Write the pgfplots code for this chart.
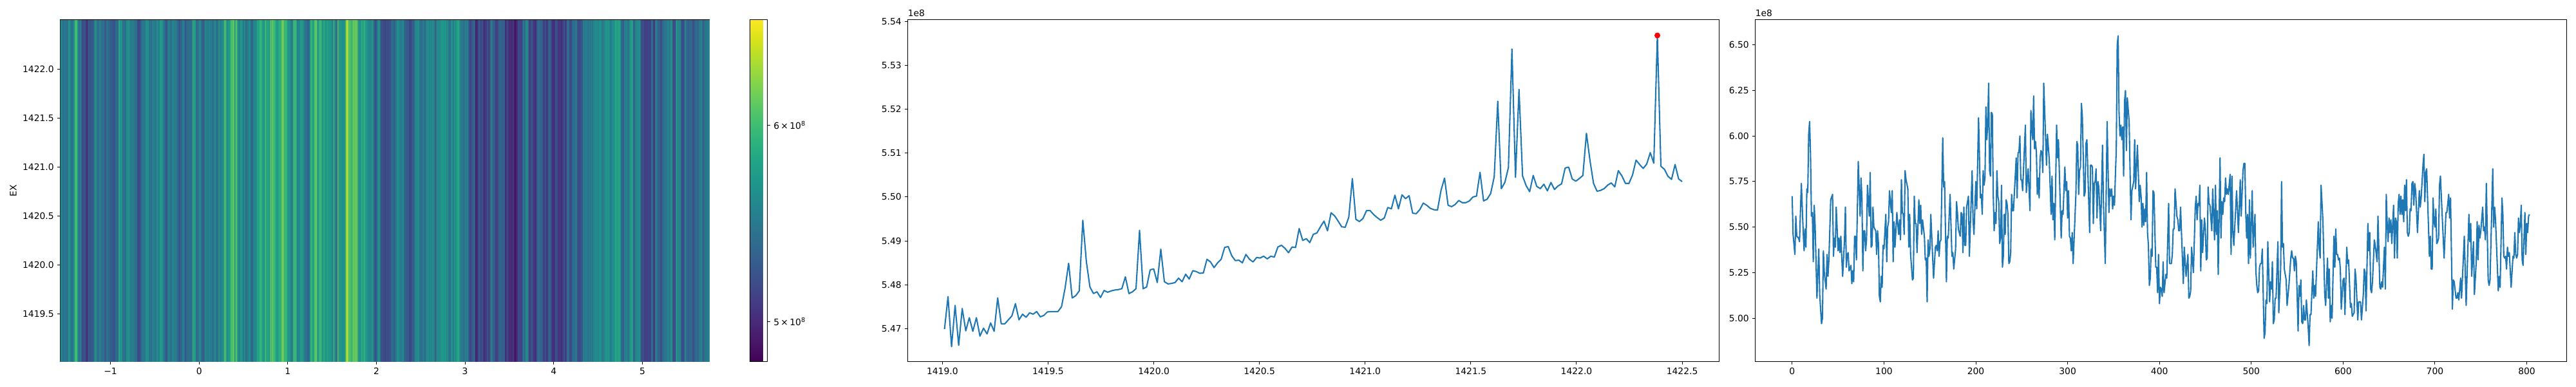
\documentclass[border=0pt]{standalone}
\usepackage{pgfplots}
\usepackage{pgfplotstable}
\usepackage{fontspec}
\setmainfont{DejaVu Sans}
\pgfplotsset{compat=1.18}
\definecolor{mplblue}{HTML}{1F77B4}
\pgfdeclareplotmark{stripe}{%
  \pgfpathrectangle{\pgfpoint{-0.45pt}{-191.16pt}}{\pgfpoint{4pt}{382.32pt}}%
  \pgfusepathqfill}
\pgfdeclareplotmark{stripeb}{%
  \pgfpathrectangle{\pgfpoint{0pt}{-191.16pt}}{\pgfpoint{3pt}{382.32pt}}%
  \pgfusepathqfill}
\pgfplotstableread[row sep=\\]{
i v \\
0 5.67 \\ 1 5.46 \\ 3 5.35 \\ 4 5.56 \\ 5 5.45 \\ 7 5.44 \\ 8 5.42 \\ 10 5.74 \\ 12 5.48 \\ 13 5.37 \\
14 5.49 \\ 15 5.39 \\ 16 5.71 \\ 17 5.69 \\ 18 6.01 \\ 19 6.08 \\ 20 5.90 \\ 21 5.56 \\ 22 5.58 \\ 23 5.31 \\
24 5.62 \\ 25 5.51 \\ 26 5.31 \\ 27 5.11 \\ 29 5.38 \\ 30 5.13 \\ 32 4.97 \\ 33 5.00 \\ 34 5.37 \\ 35 5.25 \\
37 5.16 \\ 38 5.35 \\ 39 5.23 \\ 40 5.32 \\ 42 5.65 \\ 44 5.68 \\ 45 5.34 \\ 46 5.44 \\ 47 5.39 \\ 48 5.61 \\
50 5.37 \\ 51 5.44 \\ 52 5.36 \\ 53 5.45 \\ 55 5.23 \\ 57 5.43 \\ 58 5.61 \\ 59 5.28 \\ 60 5.35 \\ 61 5.36 \\
62 5.26 \\ 64 5.29 \\ 65 5.19 \\ 66 5.26 \\ 67 5.20 \\ 68 5.45 \\ 69 5.45 \\ 70 5.32 \\ 72 5.86 \\ 74 5.56 \\
75 5.77 \\ 76 5.66 \\ 77 5.26 \\ 78 5.48 \\ 79 5.48 \\ 80 5.37 \\ 81 5.43 \\ 82 5.73 \\ 84 5.56 \\ 85 5.80 \\
86 5.39 \\ 87 5.40 \\ 88 5.61 \\ 89 5.50 \\ 91 5.48 \\ 92 5.35 \\ 93 5.48 \\ 94 5.41 \\ 95 5.12 \\ 96 5.09 \\
97 5.23 \\ 98 5.17 \\ 99 5.40 \\ 100 5.38 \\ 102 5.57 \\ 103 5.31 \\ 104 5.50 \\ 105 5.53 \\ 106 5.70 \\ 108 5.58 \\
109 5.70 \\ 110 5.31 \\ 111 5.53 \\ 112 5.39 \\ 114 5.58 \\ 116 5.46 \\ 117 5.54 \\ 118 5.43 \\ 119 5.76 \\ 120 5.58 \\
121 5.57 \\ 122 5.46 \\ 123 5.81 \\ 124 5.76 \\ 126 5.71 \\ 127 5.39 \\ 128 5.57 \\ 129 5.35 \\ 130 5.28 \\ 131 5.21 \\
132 5.22 \\ 133 5.67 \\ 134 5.52 \\ 135 5.52 \\ 136 5.36 \\ 138 5.65 \\ 139 5.52 \\ 140 5.62 \\ 141 5.46 \\ 142 5.54 \\
144 5.45 \\ 145 5.32 \\ 146 5.33 \\ 147 5.09 \\ 148 5.43 \\ 149 5.34 \\ 150 5.38 \\ 151 5.57 \\ 154 5.22 \\ 156 5.39 \\
157 5.40 \\ 158 5.37 \\ 159 5.48 \\ 160 5.34 \\ 161 5.42 \\ 162 5.43 \\ 164 5.99 \\ 165 5.72 \\ 166 5.75 \\ 168 5.20 \\
169 5.45 \\ 170 5.44 \\ 172 5.68 \\ 174 5.34 \\ 175 5.36 \\ 176 5.27 \\ 178 5.38 \\ 179 5.64 \\ 180 5.58 \\ 181 5.49 \\
183 5.45 \\ 184 5.58 \\ 185 5.57 \\ 186 5.36 \\ 187 5.61 \\ 188 5.40 \\ 189 5.40 \\ 190 5.61 \\ 192 5.67 \\ 193 5.34 \\
196 5.81 \\ 197 5.54 \\ 198 5.46 \\ 200 5.75 \\ 201 5.60 \\ 203 6.10 \\ 205 5.66 \\ 206 5.68 \\ 207 5.57 \\ 208 5.81 \\
209 5.73 \\ 210 5.77 \\ 211 6.16 \\ 212 5.98 \\ 213 6.07 \\ 214 6.29 \\ 215 5.81 \\ 216 5.78 \\ 217 6.13 \\ 218 6.12 \\
219 5.68 \\ 220 5.48 \\ 221 5.58 \\ 222 5.52 \\ 223 5.81 \\ 224 5.67 \\ 225 5.64 \\ 226 5.41 \\ 227 5.44 \\ 228 5.73 \\
229 5.28 \\ 230 5.34 \\ 231 5.57 \\ 232 5.46 \\ 233 5.65 \\ 234 5.63 \\ 235 5.57 \\ 236 5.30 \\ 237 5.31 \\ 238 5.36 \\
239 5.68 \\ 240 5.59 \\ 241 5.59 \\ 244 5.88 \\ 245 5.66 \\ 246 5.91 \\ 247 5.91 \\ 248 6.00 \\ 249 5.76 \\ 250 5.76 \\
251 5.70 \\ 254 6.06 \\ 255 5.69 \\ 257 5.82 \\ 259 5.59 \\ 260 6.14 \\ 262 5.98 \\ 263 6.22 \\ 264 5.93 \\ 265 5.97 \\
266 5.91 \\ 267 5.68 \\ 268 5.77 \\ 269 5.66 \\ 270 5.88 \\ 271 5.92 \\ 272 5.91 \\ 273 5.80 \\ 274 6.29 \\ 277 5.84 \\
278 6.01 \\ 280 5.87 \\ 282 5.57 \\ 283 5.78 \\ 284 5.54 \\ 285 5.63 \\ 286 5.43 \\ 288 6.06 \\ 289 5.88 \\ 290 5.98 \\
293 5.44 \\ 294 5.59 \\ 295 5.57 \\ 297 5.83 \\ 298 5.70 \\ 299 5.75 \\ 300 5.55 \\ 301 5.70 \\ 302 5.45 \\ 303 5.44 \\
304 5.37 \\ 305 5.47 \\ 306 5.30 \\ 309 5.68 \\ 310 5.97 \\ 311 5.95 \\ 312 5.68 \\ 313 5.81 \\ 314 5.83 \\ 315 6.18 \\
316 6.11 \\ 318 5.67 \\ 319 5.69 \\ 320 5.96 \\ 321 5.98 \\ 324 5.47 \\ 325 5.84 \\ 326 5.84 \\ 327 5.83 \\ 328 5.52 \\
329 5.74 \\ 330 5.75 \\ 331 5.82 \\ 332 5.55 \\ 333 5.75 \\ 334 5.72 \\ 336 5.48 \\ 338 5.95 \\ 339 5.64 \\ 341 5.30 \\
343 6.08 \\ 345 5.58 \\ 346 5.71 \\ 347 5.67 \\ 348 5.71 \\ 349 5.60 \\ 350 5.67 \\ 351 5.62 \\ 352 5.78 \\ 353 5.93 \\
354 6.50 \\ 355 6.55 \\ 356 6.13 \\ 357 6.00 \\ 358 6.06 \\ 359 5.98 \\ 360 6.05 \\ 361 5.78 \\ 362 6.19 \\ 363 6.25 \\
364 5.92 \\ 365 6.21 \\ 367 6.08 \\ 369 5.54 \\ 370 5.70 \\ 372 5.75 \\ 373 5.98 \\ 374 5.71 \\ 376 5.95 \\ 378 5.64 \\
379 5.73 \\ 380 5.67 \\ 381 5.50 \\ 382 5.63 \\ 383 5.51 \\ 384 5.60 \\ 385 5.53 \\ 386 5.80 \\ 387 5.47 \\ 388 5.40 \\
389 5.18 \\ 390 5.22 \\ 391 5.38 \\ 392 5.34 \\ 393 5.70 \\ 394 5.69 \\ 396 5.28 \\ 397 5.28 \\ 398 5.14 \\ 399 5.35 \\
400 5.08 \\ 401 5.17 \\ 402 5.16 \\ 403 5.12 \\ 404 5.31 \\ 405 5.14 \\ 407 5.24 \\ 408 5.22 \\ 410 5.63 \\ 411 5.30 \\
413 5.30 \\ 414 5.35 \\ 415 5.49 \\ 416 5.49 \\ 417 5.71 \\ 419 5.56 \\ 420 5.54 \\ 421 5.48 \\ 422 5.48 \\ 423 5.61 \\
426 5.19 \\ 427 5.39 \\ 429 5.23 \\ 431 5.35 \\ 432 5.11 \\ 433 5.12 \\ 434 5.15 \\ 435 5.39 \\ 437 5.25 \\ 439 5.61 \\
440 5.67 \\ 441 5.54 \\ 442 5.63 \\ 443 5.62 \\ 444 5.73 \\ 445 5.26 \\ 446 5.54 \\ 447 5.36 \\ 449 5.55 \\ 450 5.49 \\
451 5.32 \\ 452 5.33 \\ 453 5.72 \\ 454 5.63 \\ 455 5.62 \\ 457 5.48 \\ 458 5.71 \\ 459 5.57 \\ 460 5.43 \\ 461 5.73 \\
462 5.46 \\ 463 5.59 \\ 464 5.24 \\ 466 5.88 \\ 467 5.44 \\ 468 5.64 \\ 469 5.57 \\ 470 5.66 \\ 471 5.64 \\ 472 5.77 \\
473 5.68 \\ 474 5.71 \\ 475 5.68 \\ 477 5.79 \\ 478 5.35 \\ 479 5.78 \\ 480 5.47 \\ 481 5.40 \\ 484 5.70 \\ 486 5.47 \\
488 5.76 \\ 489 5.56 \\ 491 5.81 \\ 492 5.85 \\ 493 5.85 \\ 494 5.58 \\ 495 5.44 \\ 496 5.57 \\ 497 5.30 \\ 498 5.65 \\
499 5.33 \\ 501 5.70 \\ 502 5.39 \\ 504 5.57 \\ 505 5.26 \\ 506 5.18 \\ 507 5.14 \\ 508 5.15 \\ 509 5.28 \\ 510 5.30 \\
511 5.30 \\ 512 5.38 \\ 514 4.89 \\ 515 4.92 \\ 516 5.10 \\ 517 5.08 \\ 518 5.42 \\ 520 5.09 \\ 521 5.20 \\ 522 5.16 \\
523 5.31 \\ 524 4.97 \\ 525 4.99 \\ 526 5.11 \\ 527 5.11 \\ 529 5.42 \\ 530 5.03 \\ 532 5.27 \\ 533 5.75 \\ 534 5.39 \\
535 5.41 \\ 536 5.27 \\ 538 5.21 \\ 539 5.07 \\ 541 5.18 \\ 543 5.33 \\ 544 5.37 \\ 545 5.33 \\ 546 5.33 \\ 547 5.26 \\
548 5.34 \\ 549 5.31 \\ 551 4.93 \\ 552 5.18 \\ 553 5.12 \\ 554 5.21 \\ 555 4.98 \\ 556 4.97 \\ 557 5.07 \\ 558 4.99 \\
559 4.99 \\ 560 5.10 \\ 562 4.95 \\ 563 4.85 \\ 564 5.02 \\ 565 5.02 \\ 567 5.26 \\ 568 5.11 \\ 569 5.18 \\ 570 5.12 \\
573 5.53 \\ 574 5.38 \\ 575 5.33 \\ 576 5.73 \\ 578 5.54 \\ 580 5.13 \\ 581 5.07 \\ 583 5.33 \\ 584 5.11 \\ 585 5.27 \\
586 4.98 \\ 587 5.07 \\ 588 5.00 \\ 590 5.45 \\ 591 5.28 \\ 592 5.49 \\ 593 5.35 \\ 594 5.35 \\ 595 5.32 \\ 596 5.33 \\
597 5.27 \\ 598 5.05 \\ 600 5.21 \\ 601 5.22 \\ 602 5.02 \\ 604 5.39 \\ 605 5.30 \\ 606 5.32 \\ 608 5.06 \\ 609 5.08 \\
610 5.01 \\ 612 5.03 \\ 613 5.27 \\ 614 5.22 \\ 616 4.99 \\ 617 5.09 \\ 619 5.09 \\ 620 4.99 \\ 622 5.13 \\ 623 5.27 \\
624 5.25 \\ 625 5.04 \\ 627 5.52 \\ 628 5.37 \\ 629 5.47 \\ 630 5.16 \\ 631 5.14 \\ 632 5.20 \\ 634 5.43 \\ 635 5.40 \\
637 5.31 \\ 638 5.56 \\ 640 5.17 \\ 641 5.16 \\ 642 5.20 \\ 643 5.17 \\ 645 5.39 \\ 646 5.16 \\ 647 5.68 \\ 648 5.52 \\
649 5.42 \\ 650 5.55 \\ 651 5.47 \\ 652 5.54 \\ 653 5.41 \\ 655 5.62 \\ 656 5.33 \\ 657 5.55 \\ 658 5.53 \\ 659 5.33 \\
660 5.63 \\ 661 5.68 \\ 662 5.57 \\ 663 5.67 \\ 664 5.57 \\ 665 5.65 \\ 666 5.53 \\ 667 5.73 \\ 668 5.59 \\ 669 5.76 \\
670 5.47 \\ 671 5.45 \\ 672 5.47 \\ 673 5.60 \\ 674 5.59 \\ 675 5.74 \\ 676 5.75 \\ 677 5.62 \\ 678 5.74 \\ 679 5.70 \\
680 5.59 \\ 681 5.47 \\ 683 5.70 \\ 684 5.61 \\ 685 5.66 \\ 687 5.84 \\ 688 5.90 \\ 689 5.64 \\ 690 5.80 \\ 691 5.82 \\
694 5.34 \\ 695 5.45 \\ 696 5.27 \\ 697 5.27 \\ 698 5.66 \\ 699 5.53 \\ 700 5.50 \\ 701 5.60 \\ 702 5.41 \\ 703 5.42 \\
704 5.44 \\ 705 5.73 \\ 706 5.78 \\ 710 5.33 \\ 712 5.58 \\ 713 5.58 \\ 715 5.68 \\ 716 5.55 \\ 717 5.66 \\ 719 5.05 \\
720 5.21 \\ 721 5.20 \\ 723 5.11 \\ 724 5.11 \\ 725 5.14 \\ 726 5.10 \\ 728 5.22 \\ 729 5.11 \\ 732 5.45 \\ 734 5.07 \\
737 5.57 \\ 738 5.42 \\ 739 5.52 \\ 740 5.23 \\ 742 5.42 \\ 743 5.13 \\ 745 5.31 \\ 746 5.53 \\ 747 5.32 \\ 748 5.51 \\
749 5.44 \\ 750 5.48 \\ 752 5.61 \\ 753 5.48 \\ 754 5.50 \\ 755 5.43 \\ 756 5.74 \\ 758 5.21 \\ 759 5.18 \\ 760 5.21 \\
763 5.82 \\ 764 5.50 \\ 765 5.61 \\ 766 5.54 \\ 769 5.15 \\ 770 5.23 \\ 771 5.17 \\ 773 5.66 \\ 774 5.57 \\ 775 5.34 \\
776 5.33 \\ 777 5.34 \\ 778 5.27 \\ 779 5.39 \\ 780 5.34 \\ 781 5.36 \\ 783 5.17 \\ 785 5.34 \\ 786 5.33 \\ 787 5.47 \\
788 5.35 \\ 789 5.33 \\ 790 5.35 \\ 791 5.55 \\ 792 5.47 \\ 793 5.51 \\ 794 5.62 \\ 795 5.32 \\ 796 5.29 \\ 798 5.58 \\
799 5.35 \\ 800 5.52 \\ 801 5.47 \\ 802 5.56 \\ 803 5.57 \\
}\profile
\pgfplotstableread[row sep=\\]{
k v \\
0 5.4699 \\ 1 5.4773 \\ 2 5.4659 \\ 3 5.4753 \\ 4 5.4662 \\ 5 5.4746 \\ 6 5.4695 \\ 7 5.4725 \\ 8 5.4694 \\ 9 5.4725 \\
10 5.4683 \\ 11 5.4701 \\ 12 5.4688 \\ 13 5.4713 \\ 14 5.4694 \\ 15 5.4770 \\ 16 5.4711 \\ 17 5.4711 \\ 18 5.4720 \\ 19 5.4729 \\
20 5.4757 \\ 21 5.4720 \\ 22 5.4733 \\ 23 5.4726 \\ 24 5.4736 \\ 25 5.4733 \\ 26 5.4739 \\ 27 5.4727 \\ 28 5.4730 \\ 29 5.4738 \\
30 5.4739 \\ 31 5.4739 \\ 32 5.4739 \\ 33 5.4750 \\ 34 5.4792 \\ 35 5.4849 \\ 36 5.4770 \\ 37 5.4775 \\ 38 5.4786 \\ 39 5.4947 \\
40 5.4853 \\ 41 5.4795 \\ 42 5.4780 \\ 43 5.4784 \\ 44 5.4771 \\ 45 5.4787 \\ 46 5.4783 \\ 47 5.4786 \\ 48 5.4788 \\ 49 5.4789 \\
50 5.4791 \\ 51 5.4818 \\ 52 5.4780 \\ 53 5.4784 \\ 54 5.4791 \\ 55 5.4924 \\ 56 5.4791 \\ 57 5.4795 \\ 58 5.4834 \\ 59 5.4836 \\
60 5.4805 \\ 61 5.4881 \\ 62 5.4807 \\ 63 5.4802 \\ 64 5.4803 \\ 65 5.4805 \\ 66 5.4815 \\ 67 5.4807 \\ 68 5.4824 \\ 69 5.4813 \\
70 5.4832 \\ 71 5.4830 \\ 72 5.4826 \\ 73 5.4827 \\ 74 5.4858 \\ 75 5.4852 \\ 76 5.4839 \\ 77 5.4850 \\ 78 5.4858 \\ 79 5.4885 \\
80 5.4887 \\ 81 5.4866 \\ 82 5.4855 \\ 83 5.4856 \\ 84 5.4850 \\ 85 5.4869 \\ 86 5.4858 \\ 87 5.4852 \\ 88 5.4862 \\ 89 5.4861 \\
90 5.4865 \\ 91 5.4859 \\ 92 5.4865 \\ 93 5.4863 \\ 94 5.4886 \\ 95 5.4890 \\ 96 5.4883 \\ 97 5.4873 \\ 98 5.4886 \\ 99 5.4885 \\
100 5.4928 \\ 101 5.4901 \\ 102 5.4905 \\ 103 5.4896 \\ 104 5.4915 \\ 105 5.4918 \\ 106 5.4932 \\ 107 5.4945 \\ 108 5.4923 \\ 109 5.4964 \\
110 5.4957 \\ 111 5.4945 \\ 112 5.4932 \\ 113 5.4931 \\ 114 5.4954 \\ 115 5.5042 \\ 116 5.4949 \\ 117 5.4944 \\ 118 5.4951 \\ 119 5.4969 \\
120 5.4969 \\ 121 5.4960 \\ 122 5.4953 \\ 123 5.4947 \\ 124 5.4952 \\ 125 5.4976 \\ 126 5.4973 \\ 127 5.5004 \\ 128 5.4973 \\ 129 5.5005 \\
130 5.4996 \\ 131 5.5003 \\ 132 5.4963 \\ 133 5.4962 \\ 134 5.4971 \\ 135 5.4986 \\ 136 5.4981 \\ 137 5.4974 \\ 138 5.4971 \\ 139 5.4970 \\
140 5.5015 \\ 141 5.5043 \\ 142 5.4981 \\ 143 5.4978 \\ 144 5.4983 \\ 145 5.4992 \\ 146 5.4987 \\ 147 5.4987 \\ 148 5.4991 \\ 149 5.5000 \\
150 5.5002 \\ 151 5.5056 \\ 152 5.4991 \\ 153 5.4995 \\ 154 5.5008 \\ 155 5.5046 \\ 156 5.5218 \\ 157 5.5019 \\ 158 5.5033 \\ 159 5.5067 \\
160 5.5337 \\ 161 5.5045 \\ 162 5.5245 \\ 163 5.5048 \\ 164 5.5026 \\ 165 5.5012 \\ 166 5.5049 \\ 167 5.5024 \\ 168 5.5019 \\ 169 5.5029 \\
170 5.5014 \\ 171 5.5033 \\ 172 5.5017 \\ 173 5.5025 \\ 174 5.5030 \\ 175 5.5066 \\ 176 5.5068 \\ 177 5.5041 \\ 178 5.5036 \\ 179 5.5042 \\
180 5.5049 \\ 181 5.5145 \\ 182 5.5083 \\ 183 5.5031 \\ 184 5.5013 \\ 185 5.5015 \\ 186 5.5019 \\ 187 5.5027 \\ 188 5.5032 \\ 189 5.5023 \\
190 5.5060 \\ 191 5.5048 \\ 192 5.5031 \\ 193 5.5031 \\ 194 5.5050 \\ 195 5.5084 \\ 196 5.5074 \\ 197 5.5065 \\ 198 5.5075 \\ 199 5.5101 \\
200 5.5077 \\ 201 5.5368 \\ 202 5.5070 \\ 203 5.5063 \\ 204 5.5047 \\ 205 5.5040 \\ 206 5.5074 \\ 207 5.5041 \\ 208 5.5035 \\
}\zoomed
\pgfplotsset{
  base/.style={
    scale only axis, anchor=south west, height=382.32pt,
    axis line style={line width=0.72pt, black},
    every tick/.style={black, line width=0.72pt},
    major tick length=3.5pt,
    tick align=outside,
    xtick pos=bottom, ytick pos=left,
    minor tick num=0,
    scaled ticks=false,
    tick label style={font=\fontsize{10}{12}\selectfont},
    clip mode=individual,
  },
  mline/.style={mplblue, line width=1.5pt, line join=round, no markers},
}
\begin{document}
\begin{tikzpicture}[x=1pt,y=1pt]
\path[use as bounding box] (0,0) rectangle (2880,432);
% heat map
\begin{axis}[base, at={(67.32pt,27.72pt)}, width=725.76pt,
  xmin=-1.567, xmax=5.756, ymin=1419.01, ymax=1422.505,
  xtick={-1,0,1,2,3,4,5}, xticklabels={−1,0,1,2,3,4,5},
  ytick={1419.5,1420,1420.5,1421,1421.5,1422},
  yticklabels={1419.5,1420.0,1420.5,1421.0,1421.5,1422.0},
  ylabel={EX}, ylabel style={font=\fontsize{10}{12}\selectfont},
  colormap/viridis,
  point meta min=1.5724, point meta max=1.8898,
  clip marker paths=true,
  colorbar,
  colorbar style={
    at={(1.0625,1)}, anchor=north west,
    scale only axis, width=19.44pt, height=382.32pt,
    axis line style={line width=0.72pt, black},
    every tick/.style={black, line width=0.72pt},
    major tick length=3.5pt,
    tick align=outside,
    ytick={1.6094,1.7918},
    yticklabels={5\,×\,10\textsuperscript{8},6\,×\,10\textsuperscript{8}},
    ytick pos=right, yticklabel pos=right,
    tick label style={font=\fontsize{10}{12}\selectfont},
  },
]
\addplot[scatter, only marks, mark=stripe,
  scatter/use mapped color={draw=none, fill=mapped color},
  point meta={ln(\thisrow{v})}]
  table[x expr={-1.567+\thisrow{i}*0.009108}, y expr=1420.7575] {\profile};
\addplot[scatter, only marks, mark=stripeb,
  scatter/use mapped color={draw=none, fill=mapped color, fill opacity=0.65},
  point meta={ln(\thisrow{v})}]
  table[x expr={-1.567+\thisrow{i}*0.009108}, y expr=1420.7575] {\profile};
\end{axis}
% zoomed profile
\begin{axis}[base, at={(1014.84pt,27.72pt)}, width=907.2pt,
  xmin=1418.836, xmax=1422.675, ymin=5.4625, ymax=5.5404,
  xtick={1419,1419.5,1420,1420.5,1421,1421.5,1422,1422.5},
  xticklabels={1419.0,1419.5,1420.0,1420.5,1421.0,1421.5,1422.0,1422.5},
  ytick={5.47,5.48,5.49,5.50,5.51,5.52,5.53,5.54},
  yticklabels={5.47,5.48,5.49,5.50,5.51,5.52,5.53,5.54},
]
\addplot[mline] table[x expr={1419.01+\thisrow{k}*0.016779}, y=v] {\zoomed};
\addplot[only marks, mark=*, mark size=3pt, color=red, mark options={fill=red, draw=red}]
  coordinates {(1422.3826,5.5368)};
\node[anchor=south west, inner sep=0pt, yshift=3pt, font=\fontsize{10}{12}\selectfont] at (rel axis cs:0,1) {1e8};
\end{axis}
% full profile
\begin{axis}[base, at={(1962.36pt,27.72pt)}, width=907.2pt,
  xmin=-40.2, xmax=843.5, ymin=4.762, ymax=6.639,
  xtick={0,100,200,300,400,500,600,700,800},
  xticklabels={0,100,200,300,400,500,600,700,800},
  ytick={5,5.25,5.5,5.75,6,6.25,6.5},
  yticklabels={5.00,5.25,5.50,5.75,6.00,6.25,6.50},
]
\addplot[mline] table[x=i, y=v] {\profile};
\node[anchor=south west, inner sep=0pt, yshift=3pt, font=\fontsize{10}{12}\selectfont] at (rel axis cs:0,1) {1e8};
\end{axis}
\end{tikzpicture}
\end{document}
